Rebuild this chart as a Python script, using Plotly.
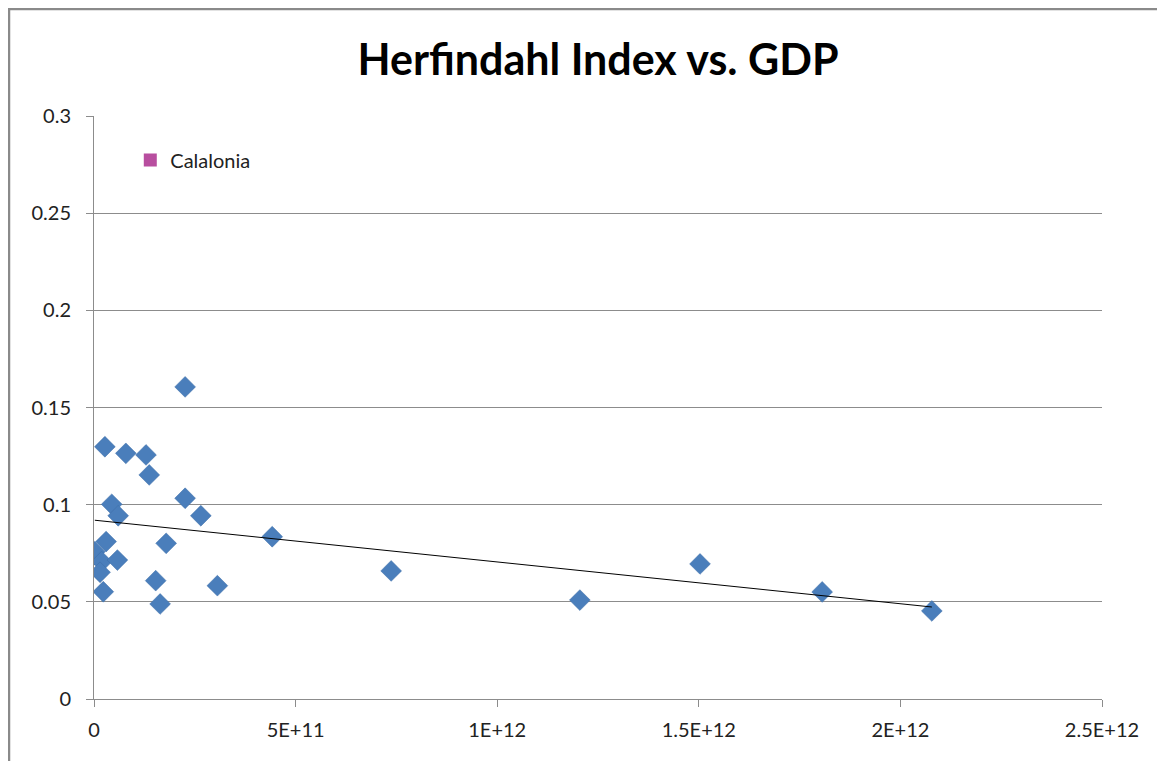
import numpy as np
import plotly.graph_objects as go

# GDP (x) and Herfindahl index (y)
gdp = [2.26e11, 0.27e11, 0.79e11, 1.29e11, 1.37e11, 2.26e11, 2.65e11, 0.44e11,
       0.60e11, 4.42e11, 1.79e11, 0.30e11, 0.02e11, 0.19e11, 0.15e11, 0.58e11,
       0.23e11, 1.53e11, 1.64e11, 3.06e11, 7.37e11, 12.05e11, 15.03e11,
       18.06e11, 20.78e11]
herfindahl = [0.1606, 0.1298, 0.1264, 0.1256, 0.1153, 0.1033, 0.0943, 0.1002,
              0.0943, 0.0835, 0.0801, 0.0810, 0.0758, 0.0707, 0.0652, 0.0715,
              0.0552, 0.0609, 0.0489, 0.0583, 0.0659, 0.0509, 0.0695,
              0.0551, 0.0453]

x_tickvals = [0, 5e11, 1e12, 1.5e12, 2e12, 2.5e12]
x_ticktext = ["0", "5E+11", "1E+12", "1.5E+12", "2E+12", "2.5E+12"]
y_tickvals = [0, 0.05, 0.1, 0.15, 0.2, 0.25, 0.3]
y_ticktext = ["0", "0.05", "0.1", "0.15", "0.2", "0.25", "0.3"]

# linear trendline (least squares), spanning data range
slope, intercept = np.polyfit(gdp, herfindahl, 1)
tx = np.array([min(gdp), max(gdp)])
ty = slope * tx + intercept

FONT = "Lato, 'Open Sans', sans-serif"
GRID = "#8c8c8c"
W, H = 1157, 753
L, R, T, B = 86, 63, 108, 62
PW = W - L - R
PH = H - T - B

fig = go.Figure()
fig.add_trace(go.Scatter(
    x=gdp, y=herfindahl, mode="markers", showlegend=False,
    marker=dict(symbol="diamond", size=16, color="#4A7EBB",
                line=dict(width=0.5, color="#3D6CA6")),
))
fig.add_trace(go.Scatter(
    x=tx, y=ty, mode="lines", showlegend=False,
    line=dict(color="black", width=1),
))
fig.add_trace(go.Scatter(
    x=[None], y=[None], mode="markers", name="Calalonia", showlegend=True,
    marker=dict(symbol="square", size=13, color="#B84E9F"),
))

fig.update_layout(
    width=W, height=H,
    margin=dict(l=L, r=R, t=T, b=B),
    paper_bgcolor="white", plot_bgcolor="white",
    font=dict(family=FONT, size=20, color="#222222"),
    title=dict(text="<b>Herfindahl Index vs. GDP</b>", x=(L + PW / 2) / W, xanchor="center",
               y=1 - 52 / H, yanchor="middle",
               font=dict(family=FONT, size=43, color="black")),
    showlegend=True,
    legend=dict(x=0.036, y=(PH + T - 152) / PH, xanchor="left", yanchor="middle",
                bgcolor="rgba(0,0,0,0)", font=dict(family=FONT, size=20, color="#222222")),
    xaxis=dict(range=[0, 2.5e12], tickmode="array", tickvals=x_tickvals,
               ticktext=x_ticktext, showgrid=False, zeroline=False,
               showline=True, linecolor=GRID, linewidth=1,
               ticks="outside", ticklen=7, tickcolor=GRID,
               ticklabelstandoff=6),
    yaxis=dict(range=[0, 0.3], tickmode="array", tickvals=y_tickvals,
               ticktext=y_ticktext, showgrid=True, gridcolor=GRID, gridwidth=1,
               zeroline=False, showline=True, linecolor=GRID, linewidth=1,
               ticks="outside", ticklen=7, tickcolor=GRID,
               ticklabelstandoff=11),
)

# outer chart-area border (visible at top and left in reference)
fig.add_shape(type="rect", xref="paper", yref="paper",
              x0=(1 - L) / PW, x1=1.3, y0=-0.3, y1=(PH + T - 1) / PH,
              line=dict(color="#8a8a8a", width=2.5), fillcolor="rgba(0,0,0,0)",
              layer="below")

fig.write_html("out.html")
